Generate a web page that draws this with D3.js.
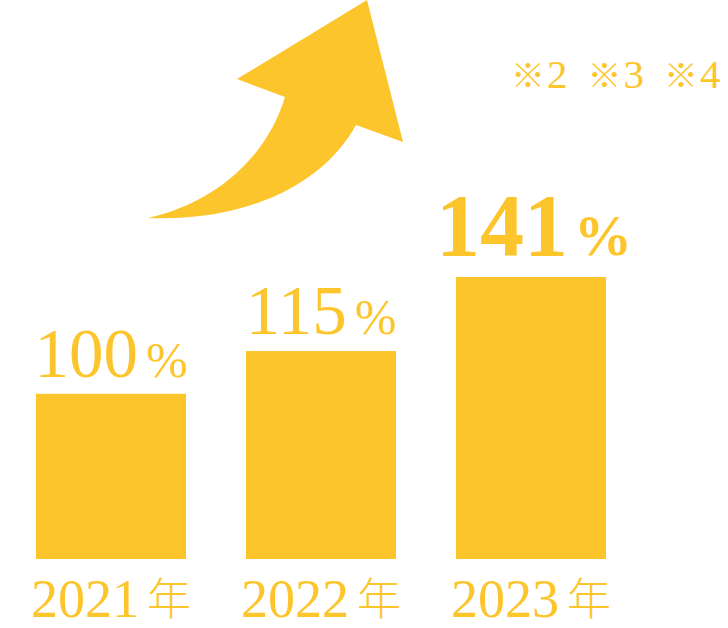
<!DOCTYPE html>
<html>
<head>
<meta charset="utf-8">
<script src="https://cdn.jsdelivr.net/npm/d3@7"></script>
<style>
  html, body { margin: 0; padding: 0; background: #ffffff; }
</style>
</head>
<body>
<div id="chart"></div>
<script>
// Growth chart: yearly index (2021 = 100%)
var years = ["2021年", "2022年", "2023年"];
var values = [100, 115, 141];
var notes = ["※2", "※3", "※4"];

var gold = "#fdc52c";

var width = 728, height = 628;
var baseY = 559;

var svg = d3.select("#chart")
    .append("svg")
    .attr("width", width)
    .attr("height", height);

// X: one band per year, 150px bars on a 210px step
var xScale = d3.scaleBand()
    .domain(years)
    .range([36, 606])
    .paddingInner(60 / 210)
    .paddingOuter(0);

// Y: bars don't start at zero in the original, domain picked to fit
var yScale = d3.scaleLinear()
    .domain([42, 141])
    .range([baseY, 277]);

// Arrow decoration (upper left)
var arrow = d3.path();
arrow.moveTo(367, 0);
arrow.lineTo(403, 142);
arrow.lineTo(356, 125);
arrow.bezierCurveTo(325, 182, 250, 222, 148, 218);
arrow.bezierCurveTo(212, 204, 266, 160, 285, 97);
arrow.lineTo(237, 79);
arrow.closePath();
svg.append("path")
    .attr("d", arrow.toString())
    .attr("fill", gold);

// Bars
svg.append("g").selectAll("rect")
    .data(values)
    .join("rect")
    .attr("x", function (d, i) { return xScale(years[i]); })
    .attr("y", function (d) { return yScale(d); })
    .attr("width", xScale.bandwidth())
    .attr("height", function (d) { return baseY - yScale(d); })
    .attr("fill", gold);

// Value labels, last one is bold and bigger
var labelG = svg.append("g")
    .attr("font-family", "'Liberation Serif', 'Times New Roman', serif")
    .attr("fill", gold);
values.forEach(function (v, i) {
    var last = (i == values.length - 1);
    var t = labelG.append("text")
        .attr("x", xScale(years[i]) + xScale.bandwidth() / 2 + (last ? 3 : 0))
        .attr("y", yScale(v) - (last ? 22 : 17))
        .attr("text-anchor", "middle")
        .attr("font-weight", last ? "bold" : "normal");
    t.append("tspan")
        .attr("font-size", last ? 88 : 69)
        .text(v);
    t.append("tspan")
        .attr("font-size", last ? 58 : 50)
        .attr("dx", last ? 6 : 8)
        .text("%");
});

// Year labels under the bars
var yearG = svg.append("g")
    .attr("fill", gold);
years.forEach(function (y, i) {
    var t = yearG.append("text")
        .attr("x", xScale(y) + xScale.bandwidth() / 2)
        .attr("y", 617)
        .attr("text-anchor", "middle");
    t.append("tspan")
        .attr("font-family", "'Liberation Serif', 'Times New Roman', serif")
        .attr("font-size", 54)
        .text(y.slice(0, 4));
    t.append("tspan")
        .attr("font-family", "'Noto Sans CJK JP', sans-serif")
        .attr("font-weight", 300)
        .attr("font-size", 44)
        .attr("dx", 8)
        .attr("dy", -2)
        .text(y.slice(4));
});

// Footnote marks, top right
var noteG = svg.append("g")
    .attr("fill", gold);
notes.forEach(function (n, i) {
    var t = noteG.append("text")
        .attr("x", 511 + i * 76.5)
        .attr("y", 88);
    t.append("tspan")
        .attr("font-family", "'Noto Sans CJK JP', sans-serif")
        .attr("font-size", 34)
        .text(n.slice(0, 1));
    t.append("tspan")
        .attr("font-family", "'Liberation Serif', 'Times New Roman', serif")
        .attr("font-size", 41)
        .attr("dx", 2)
        .text(n.slice(1));
});
</script>
</body>
</html>
